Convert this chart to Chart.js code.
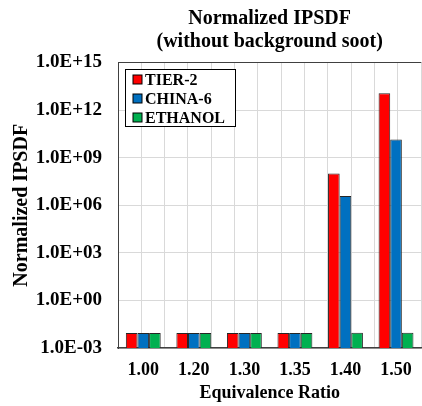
<!DOCTYPE html>
<html>
<head>
<meta charset="utf-8">
<script src="https://cdn.jsdelivr.net/npm/chart.js@4.4.1/dist/chart.umd.min.js"></script>
<style>
  html, body { margin: 0; padding: 0; background: #ffffff; overflow: hidden; }
  #wrap { position: absolute; left: 0; top: 0; width: 424px; height: 406px; }
</style>
</head>
<body>
<div id="wrap"><canvas id="c" width="424" height="406"></canvas></div>
<script>
// ---- data ----
const categories = ['1.00', '1.20', '1.30', '1.35', '1.40', '1.50'];
const tier2   = [0.0087, 0.0087, 0.0087, 0.0087, 1.0e8, 1.15e13];
const china6  = [0.0087, 0.0087, 0.0087, 0.0087, 3.8e6, 1.4e10];
const ethanol = [0.0087, 0.0087, 0.0087, 0.0087, 0.009, 0.009];
const seriesNames = ['TIER-2', 'CHINA-6', 'ETHANOL'];
const seriesColors = ['#FF0000', '#0070C0', '#00B050'];
const yTickExponents = [-3, 0, 3, 6, 9, 12, 15];
const chartTitle = ['Normalized IPSDF', '(without background soot)'];
const xTitle = 'Equivalence Ratio';
const yTitle = 'Normalized IPSDF';

const FONT = "'Liberation Serif', 'Times New Roman', serif";

function fmtSci(v) {
  const e = Math.round(Math.log10(v));
  const s = e < 0 ? '-' : '+';
  const a = Math.abs(e);
  return '1.0E' + s + (a < 10 ? '0' + a : '' + a);
}

const boxLegend = {
  id: 'boxLegend',
  afterDraw(chart) {
    const ctx = chart.ctx;
    const ca = chart.chartArea;
    const x0 = Math.round(ca.left) + 7.5, y0 = Math.round(ca.top) + 6.5, w = 110, h = 57;
    ctx.save();
    ctx.fillStyle = '#ffffff';
    ctx.fillRect(x0, y0, w, h);
    ctx.strokeStyle = '#000000';
    ctx.lineWidth = 1;
    ctx.strokeRect(x0, y0, w, h);
    ctx.font = "bold 16px " + FONT;
    ctx.textBaseline = 'middle';
    ctx.textAlign = 'left';
    chart.data.datasets.forEach((ds, i) => {
      const cy = y0 + 10.5 + i * 19;
      ctx.fillStyle = ds.backgroundColor;
      ctx.fillRect(x0 + 7.5, cy - 5, 9, 9);
      ctx.strokeStyle = '#000000';
      ctx.strokeRect(x0 + 7.5, cy - 5, 9, 9);
      ctx.fillStyle = '#000000';
      ctx.fillText(ds.label, x0 + 19.5, cy + 1);
    });
    ctx.restore();
  }
};

const datasets = [tier2, china6, ethanol].map((vals, i) => ({
  label: seriesNames[i],
  data: vals,
  backgroundColor: seriesColors[i],
  borderColor: '#262626',
  borderWidth: 1,
  barPercentage: 1.0,
  categoryPercentage: 0.69
}));

new Chart(document.getElementById('c'), {
  type: 'bar',
  data: { labels: categories, datasets: datasets },
  options: {
    responsive: false,
    animation: false,
    layout: { padding: { left: 0, right: 0, top: 0, bottom: 2 } },
    plugins: {
      legend: { display: false },
      tooltip: { enabled: false },
      title: {
        display: true,
        text: chartTitle,
        fullSize: false,
        color: '#000000',
        font: { family: FONT, size: 20, weight: 'bold', lineHeight: 1.15 },
        padding: { top: 7.5, bottom: 9 }
      }
    },
    scales: {
      x: {
        type: 'category',
        position: 'bottom',
        afterFit(scale) { scale.height = 56; },
        grid: { display: false, drawTicks: false },
        border: { display: true, color: '#404040', width: 1.5 },
        ticks: { color: '#000000', padding: 12, font: { family: FONT, size: 18, weight: 'bold' } },
        title: {
          display: true, text: xTitle, color: '#000000',
          font: { family: FONT, size: 18, weight: 'bold' },
          padding: { top: 0.5, bottom: 0 }
        }
      },
      xg: {
        type: 'linear',
        position: 'bottom',
        min: -0.5,
        max: 5.5,
        afterFit(scale) { scale.height = 0; },
        ticks: { display: false, stepSize: 0.5 },
        grid: { color: '#d9d9d9', lineWidth: 1, drawTicks: false },
        border: { display: false }
      },
      y: {
        type: 'logarithmic',
        min: 1e-3,
        max: 1e15,
        afterBuildTicks(scale) {
          scale.ticks = yTickExponents.map(e => ({ value: Math.pow(10, e) }));
        },
        afterFit(scale) { scale.width = 118; },
        ticks: {
          color: '#000000',
          padding: 16,
          font: { family: FONT, size: 19, weight: 'bold' },
          callback: (v) => fmtSci(v)
        },
        grid: {
          drawTicks: false,
          lineWidth: 1,
          color: (c) => (c.tick && Math.abs(Math.log10(c.tick.value) - 15) < 1e-6) ? '#404040' : '#d9d9d9'
        },
        border: { display: true, color: '#404040', width: 1 },
        title: {
          display: true, text: yTitle, color: '#000000',
          font: { family: FONT, size: 20, weight: 'bold' },
          padding: { top: 10, bottom: 0 }
        }
      }
    }
  },
  plugins: [boxLegend]
});
</script>
</body>
</html>
